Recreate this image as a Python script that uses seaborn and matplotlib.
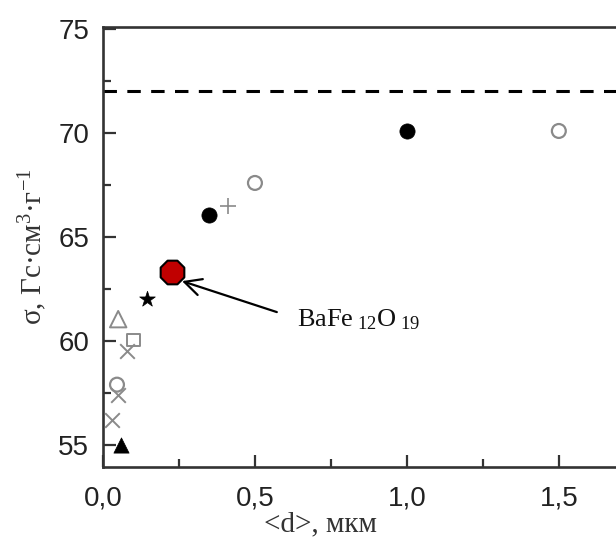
import numpy as np
import pandas as pd
import seaborn as sns
import matplotlib
matplotlib.use("Agg")
import matplotlib.pyplot as plt
from matplotlib.ticker import MultipleLocator, FuncFormatter

# ---- data ----
d_filled_circle = [0.35, 1.00]
s_filled_circle = [66.05, 70.1]
d_open_circle = [0.046, 0.50, 1.50]
s_open_circle = [57.9, 67.6, 70.1]
d_filled_tri = [0.06]
s_filled_tri = [55.0]
d_open_tri = [0.05]
s_open_tri = [61.05]
d_cross = [0.03, 0.05, 0.08]
s_cross = [56.2, 57.4, 59.5]
d_square = [0.10]
s_square = [60.05]
d_star = [0.145]
s_star = [62.0]
d_plus = [0.41]
s_plus = [66.5]
d_bafe = [0.227]
s_bafe = [63.3]
sigma_limit = 72.0
bafe_label = r"BaFe$_\mathrm{\ 12}$O$_\mathrm{\ 19}$"
arrow_head = (0.26, 62.88)
arrow_tail = (0.572, 61.39)
label_pos = (0.638, 60.72)

x_label = "<d>, мкм"
y_label = r"σ, Гс·см$^\mathrm{3}$·г$^\mathrm{-1}$"

sns.set_theme(style="ticks")
plt.rcParams["font.family"] = ["Liberation Sans", "DejaVu Sans"]
plt.rcParams["mathtext.fontset"] = "custom"
plt.rcParams["mathtext.rm"] = "Liberation Serif"
plt.rcParams["mathtext.it"] = "Liberation Serif:italic"

fig = plt.figure(figsize=(6.16, 5.47), dpi=100)
ax = fig.add_axes([103 / 616, 80 / 547, 547 / 616, 440 / 547])

gray = "#8a8a8a"
serif = ["Liberation Serif", "DejaVu Serif"]

def pts(d, s):
    return pd.DataFrame({"d": d, "s": s})

sns.scatterplot(data=pts(d_filled_circle, s_filled_circle), x="d", y="s", ax=ax,
                marker="o", s=120, color="black", edgecolor="black", linewidth=0.5, zorder=3)
sns.scatterplot(data=pts(d_open_circle, s_open_circle), x="d", y="s", ax=ax,
                marker="o", s=100, facecolor="none", edgecolor=gray, linewidth=1.6, zorder=3)
sns.scatterplot(data=pts(d_filled_tri, s_filled_tri), x="d", y="s", ax=ax,
                marker="^", s=120, color="black", edgecolor="black", linewidth=0.5, zorder=3)
sns.scatterplot(data=pts(d_open_tri, s_open_tri), x="d", y="s", ax=ax,
                marker="^", s=140, facecolor="none", edgecolor=gray, linewidth=1.4, zorder=3)
sns.scatterplot(data=pts(d_cross, s_cross), x="d", y="s", ax=ax,
                marker="x", s=110, color=gray, linewidth=1.4, zorder=3)
sns.scatterplot(data=pts(d_square, s_square), x="d", y="s", ax=ax,
                marker="s", s=80, facecolor="none", edgecolor=gray, linewidth=1.4, zorder=3)
sns.scatterplot(data=pts(d_star, s_star), x="d", y="s", ax=ax,
                marker="*", s=140, color="black", edgecolor="black", linewidth=0.5, zorder=3)
sns.scatterplot(data=pts(d_plus, s_plus), x="d", y="s", ax=ax,
                marker="+", s=120, color=gray, linewidth=1.2, zorder=3)
sns.scatterplot(data=pts(d_bafe, s_bafe), x="d", y="s", ax=ax,
                marker="8", s=340, color="#c00000", edgecolor="black", linewidth=1.5, zorder=4)

ax.axhline(sigma_limit, color="black", lw=2.2, dashes=(4.4, 3.4), zorder=2)

ax.annotate("", xy=arrow_head, xytext=arrow_tail,
            arrowprops=dict(arrowstyle="->", color="black", lw=1.6,
                            mutation_scale=30, shrinkA=0, shrinkB=0))
ax.text(label_pos[0], label_pos[1], bafe_label, fontsize=19, family=serif,
        ha="left", va="baseline", color="#111111")

ax.set_xlim(0.0, 1.8)
ax.set_ylim(53.94, 75.1)
ax.xaxis.set_major_locator(MultipleLocator(0.5))
ax.xaxis.set_minor_locator(MultipleLocator(0.25))
ax.yaxis.set_major_locator(MultipleLocator(5))
ax.yaxis.set_minor_locator(MultipleLocator(2.5))
ax.xaxis.set_major_formatter(FuncFormatter(lambda v, p: f"{v:.1f}".replace(".", ",")))
ax.yaxis.set_major_formatter(FuncFormatter(lambda v, p: f"{v:.0f}"))

ax.tick_params(which="both", direction="in", colors="#333333", labelcolor="#222222",
               top=False, right=False)
ax.tick_params(which="major", length=9, width=1.6, labelsize=20)
ax.tick_params(axis="x", which="major", pad=13)
ax.tick_params(axis="y", which="major", pad=10)
ax.tick_params(which="minor", length=5.5, width=1.6)
for sp in ax.spines.values():
    sp.set_linewidth(1.9)
    sp.set_color("#333333")

ax.set_xlabel(x_label, fontsize=21, family=serif, color="#333333")
ax.set_ylabel(y_label, fontsize=21, family=serif, color="#333333")
ax.xaxis.set_label_coords((320 - 103) / 547, -(524 - 467) / 440, transform=ax.transAxes)
ax.xaxis.label.set_va("center")
ax.yaxis.set_label_coords(-(103 - 33) / 547, (467 - 247) / 440, transform=ax.transAxes)
ax.yaxis.label.set_va("center")
ax.grid(False)

fig.savefig("out.png", dpi=100)
